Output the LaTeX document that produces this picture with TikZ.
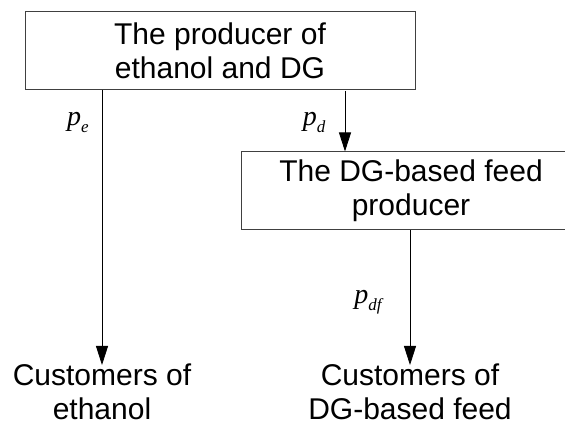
\documentclass[tikz,border=0pt]{standalone}
\usepackage{fontspec}
\setmainfont{Liberation Sans}
\newfontfamily\tnr{Liberation Serif}
\usetikzlibrary{arrows.meta}
\newcommand{\price}[1]{{\tnr\fontsize{28}{28}\selectfont\itshape p\raisebox{-0.25em}{\fontsize{17}{17}\selectfont #1}}}
\tikzset{
  agent/.style={draw=black!75,line width=1pt,minimum height=78pt,align=center,inner sep=0pt},
  market/.style={align=center,inner sep=0pt},
  flow/.style={line width=0.8pt,-{Triangle[length=19pt,width=12pt]}}
}
\begin{document}
\begin{tikzpicture}[x=1pt,y=1pt,font=\fontsize{30}{34}\selectfont]
  \useasboundingbox (0,0) rectangle (565,426);
  \node [agent,minimum width=390pt] (prod) at (220,375) {The producer of\\ethanol and DG};
  \node [agent,minimum width=340pt] (feed) at (411,235) {The DG-based feed\\producer};
  \node [market] (custE) at (102,34) {Customers of\\ethanol};
  \node [market] (custF) at (410,34) {Customers of\\DG-based feed};
  \coordinate (tipE) at (102,61);
  \coordinate (tipF) at (410,61);
  \coordinate (outD) at (345,335);
  \draw [flow] (prod.south -| tipE) -- (tipE);
  \draw [flow] (outD) -- (outD |- feed.north);
  \draw [flow] (feed.south -| tipF) -- (tipF);
  \node (pe) at (78,304) {\price{e}};
  \node (pd) at (314,304) {\price{d}};
  \node (pdf) at (368,124) {\price{df}};
\end{tikzpicture}
\end{document}
